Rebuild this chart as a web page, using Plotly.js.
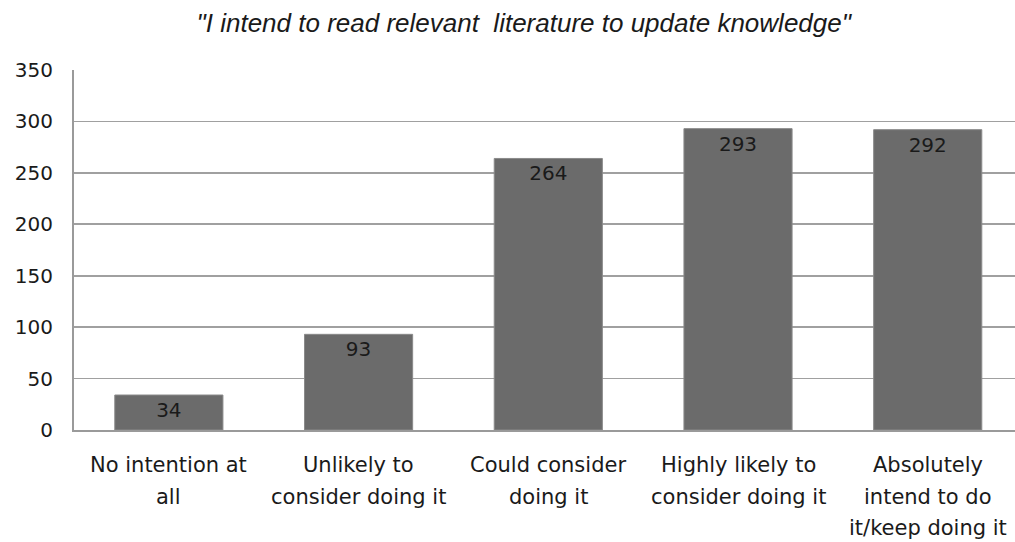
<!DOCTYPE html>
<html>
<head>
<meta charset="utf-8">
<script src="https://cdn.plot.ly/plotly-3.0.1.min.js"></script>
<style>html,body{margin:0;padding:0;background:#fff;overflow:hidden}</style>
</head>
<body>
<div id="chart" style="width:1015px;height:542px"></div>
<script>
const categories = ["No intention at all", "Unlikely to consider doing it", "Could consider doing it", "Highly likely to consider doing it", "Absolutely intend to do it/keep doing it"];
const labelLines = [
  ["No intention at", "all"],
  ["Unlikely to", "consider doing it"],
  ["Could consider", "doing it"],
  ["Highly likely to", "consider doing it"],
  ["Absolutely", "intend to do", "it/keep doing it"]
];
const values = [34, 93, 264, 293, 292];
const yTicks = [0, 50, 100, 150, 200, 250, 300, 350];
const titleText = '"I intend to read relevant  literature to update knowledge"';

const xIdx = categories.map((c, i) => i);

const annotations = [];
labelLines.forEach((lines, i) => {
  lines.forEach((ln, j) => {
    annotations.push({
      x: i, y: 0, xref: 'x', yref: 'y',
      text: ln, showarrow: false,
      xanchor: 'center', yanchor: 'middle',
      yshift: -35 - j * 31.5,
      font: {family: 'DejaVu Sans', size: 21, color: '#1a1a1a'}
    });
  });
});

const trace = {
  type: 'bar',
  x: xIdx,
  y: values,
  width: 0.57,
  marker: {color: '#6b6b6b', line: {color: '#8a8a8a', width: 1}},
  text: values.map(String),
  textposition: 'inside',
  insidetextanchor: 'end',
  textfont: {family: 'DejaVu Sans', size: 20, color: '#1a1a1a'},
  hoverinfo: 'none'
};

const layout = {
  width: 1015, height: 542,
  margin: {l: 74, r: 0, t: 70, b: 112, pad: 0},
  paper_bgcolor: '#ffffff', plot_bgcolor: '#ffffff',
  showlegend: false,
  title: {
    text: titleText,
    x: 0.516, xanchor: 'center', y: 0.958, yanchor: 'middle',
    font: {family: 'Liberation Sans', size: 26, color: '#1a1a1a', style: 'italic'}
  },
  xaxis: {
    range: [-0.5, 4.46],
    tickvals: xIdx, showticklabels: false, ticks: '',
    showgrid: false, zeroline: false,
    showline: true, linecolor: '#9a9a9a', linewidth: 2,
    fixedrange: true
  },
  yaxis: {
    range: [0, 350],
    tickvals: yTicks, ticktext: yTicks.map(String),
    ticks: '', ticklabelstandoff: 15,
    tickfont: {family: 'DejaVu Sans', size: 20, color: '#1a1a1a'},
    showgrid: true, gridcolor: '#a0a0a0', gridwidth: 1.6,
    zeroline: false,
    showline: true, linecolor: '#9a9a9a', linewidth: 2,
    fixedrange: true
  },
  annotations: annotations
};

Plotly.newPlot('chart', [trace], layout, {displayModeBar: false, staticPlot: true});
</script>
</body>
</html>
